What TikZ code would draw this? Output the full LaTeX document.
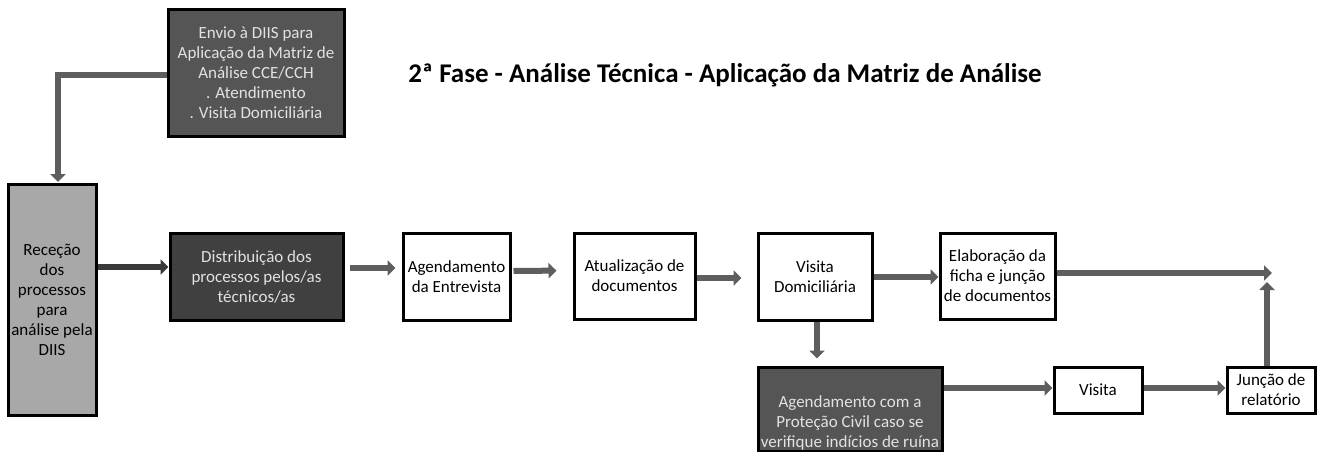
\documentclass[tikz,border=0pt]{standalone}
\usepackage{fontspec}
\setmainfont{Carlito}
\usetikzlibrary{arrows.meta,calc}
\definecolor{darkbox}{HTML}{555555}
\definecolor{darkerbox}{HTML}{404040}
\definecolor{lightbox}{HTML}{A8A8A8}
\definecolor{arrowgray}{HTML}{5E5E5E}
\definecolor{arrowdark}{HTML}{3A3A3A}
\definecolor{boxtext}{HTML}{E2E2E2}
\tikzset{
  base/.style={draw=black, line width=3pt, inner sep=0pt, align=center,
    font=\fontsize{17}{20}\selectfont},
  whitebox/.style={base, fill=white, text=black},
  darkb/.style={base, fill=darkbox, text=boxtext},
  darkerb/.style={base, fill=darkerbox, text=boxtext},
  lightb/.style={base, fill=lightbox, text=black},
  arr/.style={draw=arrowgray, line width=6pt, -{Triangle[length=8pt,width=15pt]}},
  arrd/.style={arr, draw=arrowdark},
}
\begin{document}
\begin{tikzpicture}[x=1pt,y=-1pt]
\useasboundingbox (0,0) rectangle (1318,452);
\node[darkb, minimum width=176pt, minimum height=126pt] (env) at (256,73)
  {Envio à DIIS para\\Aplicação da Matriz de\\Análise CCE/CCH\\. Atendimento\\. Visita Domiciliária};
\node[font=\bfseries\fontsize{27}{32}\selectfont] (title) at (725,75)
  {2ª Fase - Análise Técnica - Aplicação da Matriz de Análise};
\node[lightb, minimum width=88pt, minimum height=231pt] (rec) at (52,300)
  {Receção\\dos\\processos\\para\\análise pela\\DIIS};
\node[darkerb, minimum width=173pt, minimum height=87pt] (dist) at (256.5,276.5)
  {Distribuição dos\\processos pelos/as\\técnicos/as};
\node[whitebox, minimum width=107pt, minimum height=87pt] (agen) at (456.5,276.5)
  {Agendamento\\da Entrevista};
\node[whitebox, minimum width=121pt, minimum height=86pt] (atual) at (634.5,276)
  {Atualização de\\documentos};
\node[whitebox, minimum width=114pt, minimum height=87pt] (vdom) at (815,276.5)
  {Visita\\Domiciliária};
\node[whitebox, minimum width=115pt, minimum height=86pt] (elab) at (997.5,276)
  {Elaboração da\\ficha e junção\\de documentos};
\node[darkb, minimum width=184pt, minimum height=84pt, text height=80pt, text depth=4pt] (prot) at (850,409)
  {Agendamento com a\\Proteção Civil caso se\\verifique indícios de ruína};
\node[whitebox, minimum width=88pt, minimum height=46pt] (vis) at (1098,390) {Visita};
\node[whitebox, minimum width=88pt, minimum height=46pt] (jun) at (1271,390)
  {Junção de\\relatório};
\coordinate (end1) at (1272,273);
\coordinate (end2) at (1267,282);
% connectors
\draw[arr] ([yshift=-2pt]env.west) -| ($(rec.north)+(6,-1)$);
\draw[arrd] ([yshift=9.5pt]dist.west -| rec.east) -- ([yshift=9.5pt]dist.west);
\draw[arr, shorten <=5pt, shorten >=6pt] ([yshift=8.5pt]dist.east) -- ([yshift=8.5pt]agen.west);
\draw[arr, shorten <=2pt, shorten >=16pt] ([yshift=5.5pt]agen.east) -- ([yshift=5.5pt]atual.west);
\draw[arr, shorten >=15pt] ([yshift=-2pt]atual.east) -- ([yshift=-2pt]atual.east -| vdom.west);
\draw[arr] ([yshift=-0.5pt]vdom.east) -- ([yshift=-0.5pt]vdom.east -| elab.west);
\draw[arr] (elab.east |- end1) -- (end1);
\draw[arr, shorten >=7pt] ([xshift=2pt]vdom.south) -- ([xshift=2pt]vdom.south |- prot.north);
\draw[arr] ([yshift=2pt]vis.west -| prot.east) -- ([yshift=2pt]vis.west);
\draw[arr] ([yshift=2pt]vis.east) -- ([yshift=2pt]jun.west);
\draw[arr] (jun.north -| end2) -- (end2);
\end{tikzpicture}
\end{document}
